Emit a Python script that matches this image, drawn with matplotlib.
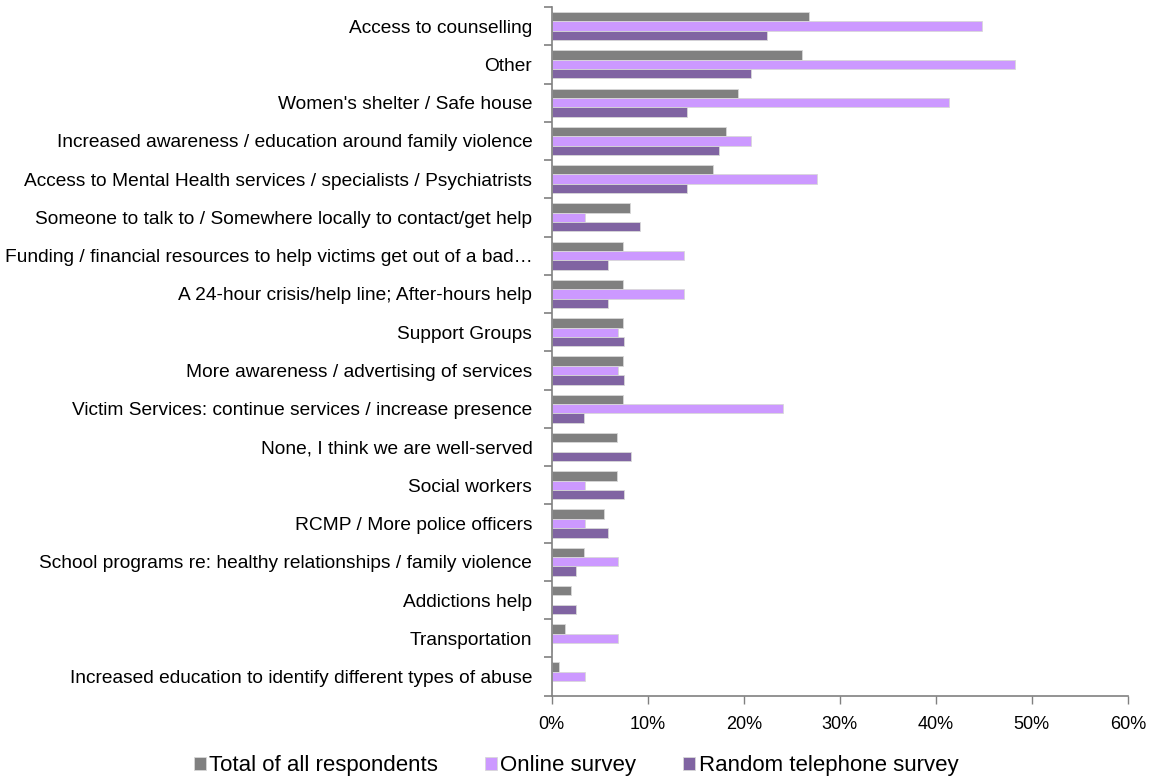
import numpy as np
import matplotlib.pyplot as plt
from matplotlib.ticker import FixedLocator, PercentFormatter

categories = [
    "Access to counselling",
    "Other",
    "Women's shelter / Safe house",
    "Increased awareness / education around family violence",
    "Access to Mental Health services / specialists / Psychiatrists",
    "Someone to talk to / Somewhere locally to contact/get help",
    "Funding / financial resources to help victims get out of a bad\u2026",
    "A 24-hour crisis/help line; After-hours help",
    "Support Groups",
    "More awareness / advertising of services",
    "Victim Services: continue services / increase presence",
    "None, I think we are well-served",
    "Social workers",
    "RCMP / More police officers",
    "School programs re: healthy relationships / family violence",
    "Addictions help",
    "Transportation",
    "Increased education to identify different types of abuse",
]
total = [26.8, 26.1, 19.4, 18.1, 16.8, 8.1, 7.4, 7.4, 7.4, 7.4, 7.4, 6.8, 6.8, 5.4, 3.4, 2.0, 1.4, 0.7]
online = [44.8, 48.3, 41.4, 20.7, 27.6, 3.45, 13.8, 13.8, 6.9, 6.9, 24.1, 0, 3.45, 3.45, 6.9, 0, 6.9, 3.45]
phone = [22.4, 20.8, 14.1, 17.4, 14.1, 9.2, 5.9, 5.9, 7.5, 7.5, 3.4, 8.3, 7.5, 5.9, 2.5, 2.5, 0, 0]

series = [("Total of all respondents", total, "#808080"),
          ("Online survey", online, "#CC99FF"),
          ("Random telephone survey", phone, "#8064A2")]

plt.rcParams['font.family'] = ['Liberation Sans', 'DejaVu Sans']

fig = plt.figure(figsize=(11.52, 7.79), dpi=100)
ax = fig.add_axes([0.479, 0.107, 0.5, 0.884])

y = np.arange(len(categories))
h = 0.245
for i, (name, vals, col) in enumerate(series):
    ax.barh(y + (i - 1) * h, vals, height=h, color=col, label=name,
            edgecolor='#d8d8d8', linewidth=0.6)

ax.set_ylim(len(categories) - 0.5, -0.5)
ax.set_xlim(0, 60)
ax.set_yticks(y)
ax.set_yticklabels(categories, fontsize=13.8)
ax.tick_params(axis='y', which='major', length=0, pad=14)
ax.yaxis.set_minor_locator(FixedLocator(np.arange(-0.5, len(categories), 1)))
ax.tick_params(axis='y', which='minor', length=6, width=1.2, color='#808080')
ax.set_xticks(np.arange(0, 61, 10))
ax.xaxis.set_major_formatter(PercentFormatter(decimals=0))
ax.tick_params(axis='x', length=6, width=1, color='#808080', labelsize=13, pad=9)

for s in ['top', 'right']:
    ax.spines[s].set_visible(False)
for s in ['left', 'bottom']:
    ax.spines[s].set_color('#808080')
    ax.spines[s].set_linewidth(1.2)

fig.legend(loc='lower center', bbox_to_anchor=(0.5, -0.022), ncol=3, frameon=False,
           fontsize=16, handlelength=0.55, handleheight=0.55, handletextpad=0.15,
           columnspacing=2.1)

plt.savefig("out.png")
